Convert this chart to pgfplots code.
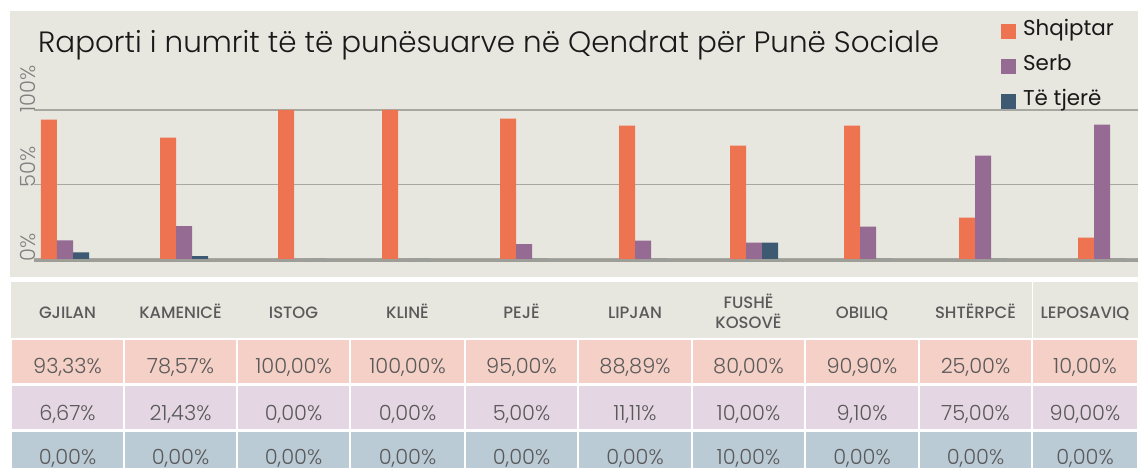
\documentclass[border=0pt]{standalone}
\usepackage{pgfplots}
\pgfplotsset{compat=1.18}
\usepackage{fontspec}
\setmainfont{Poppins}
\newfontfamily\poplight{Poppins Light}
\newfontfamily\popmed{Poppins Medium}
\definecolor{cOr}{HTML}{EE7350}
\definecolor{cPu}{HTML}{956B94}
\definecolor{cDb}{HTML}{3E5A72}
\definecolor{bg}{HTML}{E7E6DF}
\definecolor{gridc}{HTML}{A8A8A2}
\definecolor{basec}{HTML}{9E9E99}
\definecolor{rOr}{HTML}{F5D0C6}
\definecolor{rPu}{HTML}{E5D6E4}
\definecolor{rDb}{HTML}{BBCBD6}
\definecolor{txt}{HTML}{5A5A5A}
\definecolor{tickc}{HTML}{808080}
\newcommand\tl[1]{{\poplight\fontsize{21}{22}\selectfont #1}}
\begin{document}
\begin{tikzpicture}[x=1bp,y=1bp]
\path[use as bounding box, fill=white] (0,0) rectangle (1138,468);
% chart background
\fill[bg] (10,191) rectangle (1138,457);
% table header
\fill[bg] (11,130) rectangle (1138,186);
\draw[white, line width=1bp] (1032,130) -- (1032,186);
% table cells
\foreach \l/\r in {11/124,124/237,237/350,350/465,465/578,578/692,692/805,805/919,919/1032,1032/1138}{
  \fill[rOr] (\l+1,85) rectangle (\r-1,128);
  \fill[rPu] (\l+1,39) rectangle (\r-1,82);
  \fill[rDb] (\l+1,0) rectangle (\r-1,36);
}
% header labels
\foreach \c/\t in {67.5/GJILAN,180.5/KAMENICË,293.5/ISTOG,407.5/KLINË,521.5/PEJË,635/LIPJAN,862/OBILIQ,975.5/SHTËRPCË,1085/LEPOSAVIQ}{
  \node[anchor=base, inner sep=0, text=txt] at (\c,149) {\popmed\fontsize{16.5}{19}\selectfont \t};
}
\node[anchor=base, inner sep=0, text=txt] at (748.5,159) {\popmed\fontsize{16.5}{19}\selectfont FUSHË};
\node[anchor=base, inner sep=0, text=txt] at (748.5,139) {\popmed\fontsize{16.5}{19}\selectfont KOSOVË};
% row values
\foreach \c/\a/\b/\d in {67.5/{93,33}/{6,67}/{0,00}, 180.5/{78,57}/{21,43}/{0,00}, 293.5/{100,00}/{0,00}/{0,00}, 407.5/{100,00}/{0,00}/{0,00}, 521.5/{95,00}/{5,00}/{0,00}, 635/{88,89}/{11,11}/{0,00}, 748.5/{80,00}/{10,00}/{10,00}, 862/{90,90}/{9,10}/{0,00}, 975.5/{25,00}/{75,00}/{0,00}, 1085/{10,00}/{90,00}/{0,00}}{
  \node[anchor=base, inner sep=0, text=txt] at (\c,94) {\poplight\fontsize{21}{24}\selectfont \a\%};
  \node[anchor=base, inner sep=0, text=txt] at (\c,47) {\poplight\fontsize{21}{24}\selectfont \b\%};
  \node[anchor=base, inner sep=0, text=txt] at (\c,3) {\poplight\fontsize{21}{24}\selectfont \d\%};
}
% title
\node[anchor=base west, inner sep=0, text=black!90] at (38,415) {\poplight\fontsize{29.5}{32}\selectfont Raporti i numrit të të punësuarve në Qendrat për Punë Sociale};
\begin{scope}[shift={(34.5,209)}]
\begin{axis}[
  at={(0,0)}, anchor=south west,
  scale only axis, width=1103.5bp, height=149bp,
  xmin=34.5, xmax=1138, ymin=0, ymax=100,
  ybar=0pt, bar width=16bp,
  axis line style={draw=none},
  xtick=\empty,
  ytick={0,50,100}, yticklabels={\tl{0\%},\tl{50\%},\tl{100\%}},
  /pgf/number format/assume math mode=true,
  major tick length=0pt,
  ymajorgrids, grid style={gridc, line width=1.5bp},
  yticklabel style={rotate=90, anchor=south west, text=tickc, inner sep=0pt, xshift=-3bp, yshift=-1.5bp},
  clip=false,
  legend cell align=left,
  legend image code/.code={\fill[#1] (0bp,-8bp) rectangle (14.5bp,6.5bp); \path (22bp,0);},
  legend style={at={(axis description cs:0.8758,1.6)}, anchor=north west, draw=none, fill=none, inner sep=0pt,
    font=\fontsize{21.5}{24}\selectfont, row sep=15bp,
    nodes={inner sep=0pt, text height=15bp, text depth=5bp, text=black!90}},
]
\addplot[fill=cOr, draw=none] coordinates {(65,93.5) (184,81.5) (302,100) (406,100) (524,94.2) (643,89.5) (754,76) (868,89.5) (983,27.7) (1102,14.3)};
\addplot[fill=cPu, draw=none] coordinates {(65,12.5) (184,22) (302,0) (406,0) (524,10) (643,12.3) (754,11) (868,21.7) (983,69.4) (1102,90.2)};
\addplot[fill=cDb, draw=none] coordinates {(65,4.5) (184,2) (302,0) (406,0) (524,0) (643,0) (754,11) (868,0) (983,0) (1102,0)};
\legend{Shqiptar,Serb,Të tjerë}
\draw[basec, line width=2.7bp, yshift=-1.3bp] (axis cs:34.5,0) -- (axis cs:1138,0);
\end{axis}
\end{scope}
\end{tikzpicture}
\end{document}
